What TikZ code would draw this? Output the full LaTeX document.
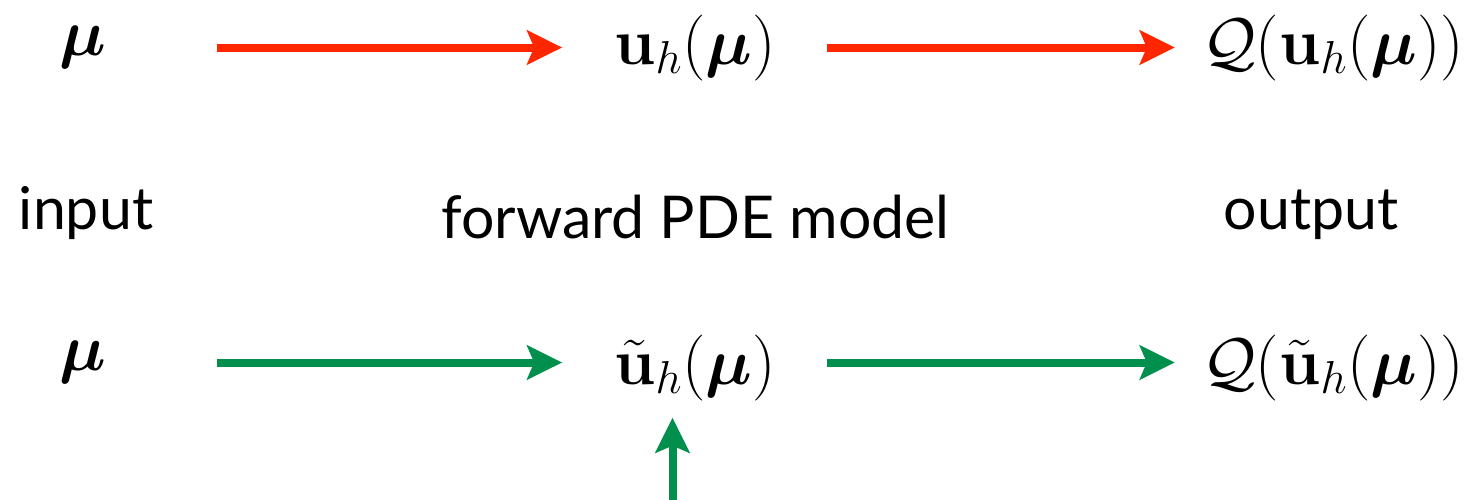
\RequirePackage{fix-cm}
\documentclass[tikz,border=0pt]{standalone}
\usepackage{amsmath}
\usepackage{bm}
\usepackage[no-math]{fontspec}
\setmainfont{Lato}
\usetikzlibrary{arrows.meta}
\definecolor{fwdred}{RGB}{255,38,0}
\definecolor{fwdgreen}{RGB}{0,143,76}
\begin{document}
\begin{tikzpicture}[x=1pt,y=-1pt,
  mathnode/.style={inner sep=0pt, font=\fontsize{66}{79}\selectfont},
  txt/.style={inner sep=0pt, anchor=base, font=\fontsize{59}{70}\selectfont},
  arr/.style={line width=8pt, -{Stealth[length=35pt,width=34pt,inset=7pt]}}]
\useasboundingbox (0,0) rectangle (1470,499);
% top row
\node[mathnode] (mu1) at (83,47.5) {$\bm{\mu}$};
\node[mathnode, anchor=base] (uh) at (695,64) {$\mathbf{u}_h(\bm{\mu})$};
\node[mathnode, anchor=base] (Q1) at (1333,64) {$\mathcal{Q}(\mathbf{u}_h(\bm{\mu}))$};
% middle labels
\node[txt] (inp) at (86,229) {input};
\node[txt] (fwd) at (695.5,238) {forward PDE model};
\node[txt] (outp) at (1311,229) {output};
% bottom row
\node[mathnode] (mu2) at (83,362.5) {$\bm{\mu}$};
\node[mathnode, anchor=base] (ut) at (695,384) {$\tilde{\mathbf{u}}_h(\bm{\mu})$};
\node[mathnode, anchor=base] (Q2) at (1333,384) {$\mathcal{Q}(\tilde{\mathbf{u}}_h(\bm{\mu}))$};
\coordinate (src) at (672.5,510);
% arrows
\draw[arr, fwdred, shorten <=110pt, shorten >=52pt] (mu1.east) -- (mu1.east -| uh.west);
\draw[arr, fwdred, shorten <=51pt, shorten >=27pt] (uh.east) -- (uh.east -| Q1.west);
\draw[arr, fwdgreen, shorten <=110pt, shorten >=52pt] (mu2.east) -- (mu2.east -| ut.west);
\draw[arr, fwdgreen, shorten <=51pt, shorten >=27pt] (mu2.east -| ut.east) -- (mu2.east -| Q2.west);
\draw[arr, fwdgreen, shorten >=17pt] (src) -- (src |- ut.south);
\end{tikzpicture}
\end{document}
